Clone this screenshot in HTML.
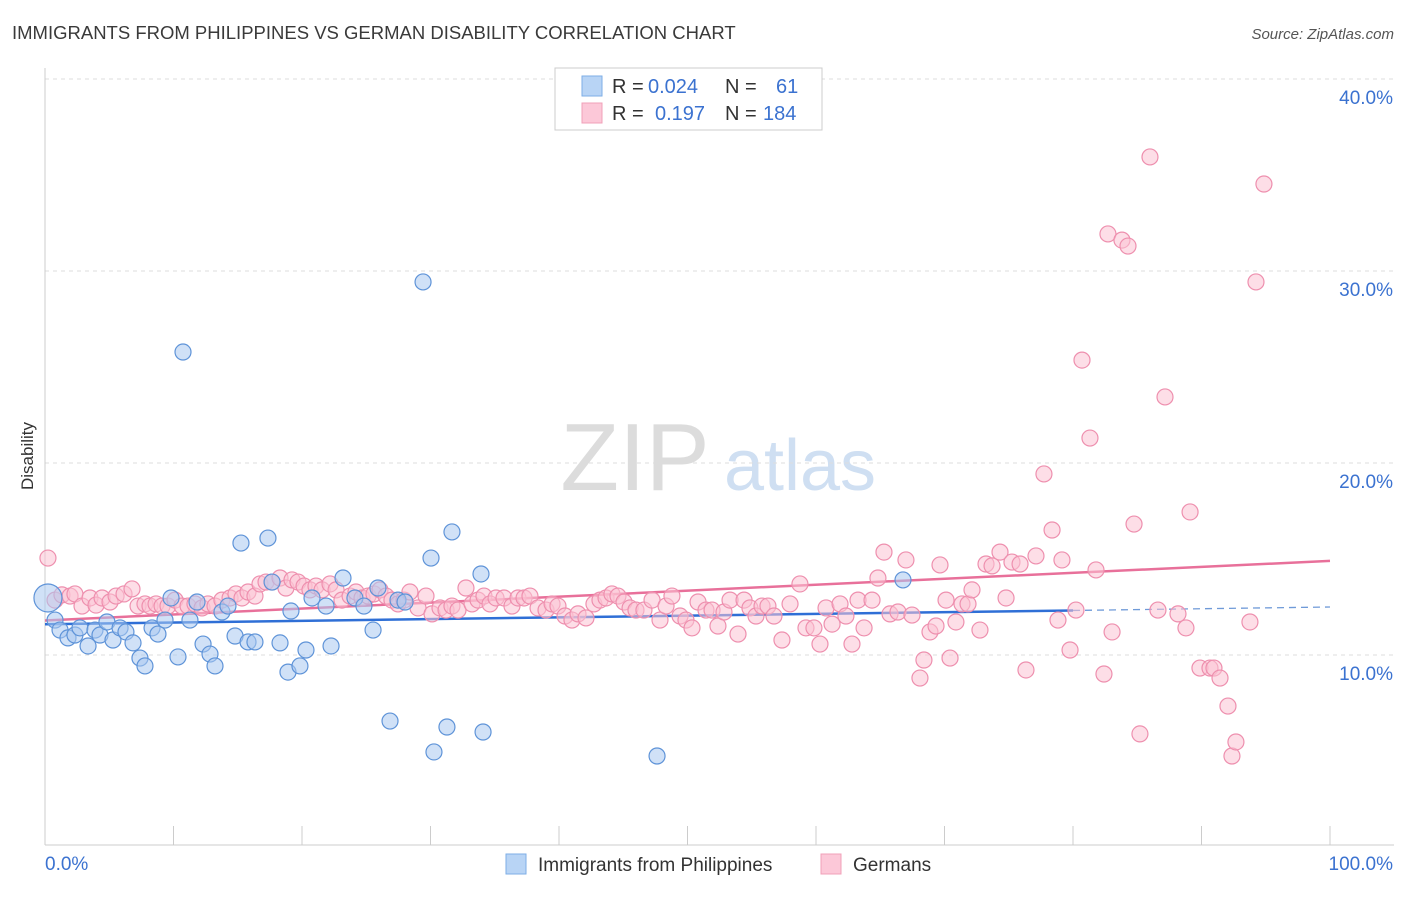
<!DOCTYPE html>
<html><head><meta charset="utf-8"><style>
body{margin:0;background:#fff;font-family:"Liberation Sans",sans-serif;}
svg text{font-family:"Liberation Sans",sans-serif;}
</style></head><body>
<svg id="chart" width="1406" height="892" xmlns="http://www.w3.org/2000/svg">
<text x="12" y="39" font-size="18.5" fill="#3a3a3a">IMMIGRANTS FROM PHILIPPINES VS GERMAN DISABILITY CORRELATION CHART</text>
<text x="1394" y="39" font-size="15" fill="#555" font-style="italic" text-anchor="end">Source: ZipAtlas.com</text>
<text x="33" y="456" font-size="17" fill="#333" transform="rotate(-90 33 456)" text-anchor="middle">Disability</text>
<g><text x="635" y="490" font-size="96" fill="#dcdcdc" font-family="Liberation Serif" text-anchor="middle">ZIP</text><text x="800" y="490" font-size="72" fill="#cfdff2" text-anchor="middle">atlas</text></g>
<g id="grid"></g><g id="axes"></g><g id="lines"></g><g id="pts"></g>
<g>
<rect x="555" y="68" width="267" height="62" fill="#fff" stroke="#ccc"/>
<rect x="582" y="76" width="20" height="20" fill="#b8d4f5" stroke="#7eaee6"/>
<rect x="582" y="103" width="20" height="20" fill="#fcc8d8" stroke="#f0a0b8"/>
<text x="612" y="93" font-size="20" fill="#333">R =</text><text x="648" y="93" font-size="20" fill="#3b72d0">0.024</text>
<text x="725" y="93" font-size="20" fill="#333">N =</text><text x="776" y="93" font-size="20" fill="#3b72d0">61</text>
<text x="612" y="120" font-size="20" fill="#333">R =</text><text x="655" y="120" font-size="20" fill="#3b72d0">0.197</text>
<text x="725" y="120" font-size="20" fill="#333">N =</text><text x="763" y="120" font-size="20" fill="#3b72d0">184</text>
</g>
<g>
<rect x="506" y="854" width="20" height="20" fill="#b8d4f5" stroke="#7eaee6"/>
<text x="538" y="871" font-size="19" fill="#333">Immigrants from Philippines</text>
<rect x="821" y="854" width="20" height="20" fill="#fcc8d8" stroke="#f0a0b8"/>
<text x="853" y="871" font-size="19" fill="#333">Germans</text>
</g>
</svg>
<script>
const yTicks=[10,20,30,40];
const yTickLabels=["10.0%","20.0%","30.0%","40.0%"];
const xEdgeLabels=["0.0%","100.0%"];
const blueTrend=[11.6,12.5];
const pinkTrend=[11.8,14.9];
const bluePx=[[48,598],[55,620],[60,630],[68,638],[75,635],[80,628],[88,646],[95,630],[100,635],[107,622],[113,640],[120,628],[126,632],[133,643],[140,658],[145,666],[152,628],[158,634],[165,620],[171,598],[178,657],[183,352],[190,620],[197,602],[203,644],[210,654],[215,666],[222,612],[228,606],[235,636],[241,543],[248,642],[255,642],[268,538],[272,582],[280,643],[288,672],[291,611],[300,666],[306,650],[312,598],[326,606],[331,646],[343,578],[355,598],[364,606],[373,630],[378,588],[390,721],[398,600],[405,602],[423,282],[431,558],[434,752],[447,727],[452,532],[481,574],[483,732],[657,756],[903,580]];
const pinkPx=[[48,558],[55,600],[62,595],[70,596],[75,594],[82,606],[90,598],[96,605],[102,598],[110,602],[116,596],[124,594],[132,589],[138,606],[145,604],[150,606],[156,604],[162,606],[168,606],[175,600],[182,606],[188,606],[195,604],[202,608],[208,604],[215,606],[222,600],[230,598],[236,594],[242,598],[248,592],[255,596],[260,584],[266,582],[272,582],[280,578],[286,588],[292,580],[298,582],[304,586],[310,590],[316,586],[322,590],[330,584],[336,590],[342,600],[350,596],[356,592],[362,598],[368,596],[374,594],[380,590],[386,596],[392,600],[398,604],[404,600],[410,592],[418,608],[426,596],[432,614],[440,608],[446,610],[452,606],[458,610],[466,588],[472,604],[478,600],[484,596],[490,604],[496,598],[504,598],[512,606],[518,598],[524,598],[530,596],[538,608],[546,610],[552,604],[558,606],[565,616],[572,620],[578,614],[586,618],[594,604],[600,600],[606,598],[612,594],[618,596],[624,602],[630,608],[636,610],[644,610],[652,600],[660,620],[666,606],[672,596],[680,616],[686,620],[692,628],[698,602],[706,610],[712,610],[718,626],[724,612],[730,600],[738,634],[744,600],[750,608],[756,616],[762,606],[768,606],[774,616],[782,640],[790,604],[800,584],[806,628],[814,628],[820,644],[826,608],[832,624],[840,604],[846,616],[852,644],[858,600],[864,628],[872,600],[878,578],[884,552],[890,614],[898,612],[906,560],[912,615],[920,678],[924,660],[930,632],[936,626],[940,565],[946,600],[950,658],[956,622],[962,604],[968,604],[972,590],[980,630],[986,564],[992,566],[1000,552],[1006,598],[1012,562],[1020,564],[1026,670],[1036,556],[1044,474],[1052,530],[1058,620],[1062,560],[1070,650],[1076,610],[1082,360],[1090,438],[1096,570],[1104,674],[1108,234],[1112,632],[1122,240],[1128,246],[1134,524],[1140,734],[1150,157],[1158,610],[1165,397],[1178,614],[1186,628],[1190,512],[1200,668],[1210,668],[1214,668],[1220,678],[1228,706],[1232,756],[1236,742],[1250,622],[1256,282],[1264,184]];
const blueData=bluePx.map(p=>[+((p[0]-45)/12.85).toFixed(2),+((847-p[1])/19.2).toFixed(2)]);
const pinkData=pinkPx.map(p=>[+((p[0]-45)/12.85).toFixed(2),+((847-p[1])/19.2).toFixed(2)]);
const X=v=>45+v*12.85, Y=v=>847-v*19.2;
const NS="http://www.w3.org/2000/svg";
function mk(t,a,parent){const e=document.createElementNS(NS,t);for(const k in a)e.setAttribute(k,a[k]);document.getElementById(parent).appendChild(e);return e;}
yTicks.forEach((t,i)=>{
 const g=mk("line",{x1:45,x2:1394,y1:Y(t),y2:Y(t),stroke:"#ddd","stroke-dasharray":"4,4"},"grid");
 
 
 const l=mk("text",{x:1393,y:Y(t)+25,"font-size":19,fill:"#3b72d0","text-anchor":"end"},"axes");l.textContent=yTickLabels[i];
 
 
});
const ax=mk("line",{x1:45,x2:1394,y1:845,y2:845,stroke:"#ccc"},"axes");


const ay=mk("line",{x1:45,x2:45,y1:68,y2:845,stroke:"#ccc"},"axes");


for(let i=0;i<=10;i++){const t=mk("line",{x1:X(i*10),x2:X(i*10),y1:826,y2:845,stroke:"#ccc"},"axes");
 
 }
const xl0=mk("text",{x:45,y:870,"font-size":19,fill:"#3b72d0"},"axes");xl0.textContent=xEdgeLabels[0];


const xl1=mk("text",{x:1393,y:870,"font-size":19,fill:"#3b72d0","text-anchor":"end"},"axes");xl1.textContent=xEdgeLabels[1];


function pts(data,fill,stroke,name){data.forEach((d,i)=>{const c=mk("circle",{cx:X(d[0]),cy:Y(d[1]),r:(name==="philippines-point"&&i===0)?14:8,fill:fill,"fill-opacity":0.55,stroke:stroke,"stroke-width":1.2},"pts");
 
 });}
pts(pinkData,"#fbc3d4","#ee8fae","germans-point");
pts(blueData,"#a9c9f0","#5e93d8","philippines-point");
const bs=(blueTrend[1]-blueTrend[0])/100;
const bl=mk("line",{x1:X(0),y1:Y(blueTrend[0]),x2:X(80),y2:Y(blueTrend[0]+bs*80),stroke:"#2f6fd6","stroke-width":2.5},"lines");


const bd=mk("line",{x1:X(80),y1:Y(blueTrend[0]+bs*80),x2:X(100),y2:Y(blueTrend[1]),stroke:"#6f9ad8","stroke-width":1.3,"stroke-dasharray":"7,5"},"lines");


const pl=mk("line",{x1:X(0),y1:Y(pinkTrend[0]),x2:X(100),y2:Y(pinkTrend[1]),stroke:"#e8709a","stroke-width":2.5},"lines");


</script>
</body></html>
